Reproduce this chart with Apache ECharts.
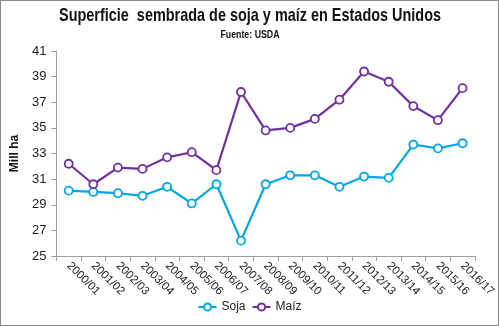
<!DOCTYPE html>
<html>
<head>
<meta charset="utf-8">
<script src="https://cdn.jsdelivr.net/npm/echarts@6/dist/echarts.min.js"></script>
<style>
  html, body { margin: 0; padding: 0; background: #fff; }
  #chart { width: 497px; height: 324px; border: 1px solid #8c8c8c; }
</style>
</head>
<body>
<div id="chart"></div>
<script>
// Campañas agrícolas
const campanas = ['2000/01','2001/02','2002/03','2003/04','2004/05','2005/06','2006/07','2007/08','2008/09','2009/10','2010/11','2011/12','2012/13','2013/14','2014/15','2015/16','2016/17'];
// Superficie sembrada, millones de hectáreas
const soja = [30.1, 30.0, 29.9, 29.7, 30.4, 29.1, 30.6, 26.2, 30.6, 31.3, 31.3, 30.4, 31.2, 31.1, 33.7, 33.4, 33.8];
const maiz = [32.2, 30.6, 31.9, 31.8, 32.7, 33.1, 31.7, 37.8, 34.8, 35.0, 35.7, 37.2, 39.4, 38.6, 36.7, 35.6, 38.1];

const tituloTexto = 'Superficie  sembrada de soja y maíz en Estados Unidos';
const fuenteTexto = 'Fuente: USDA';

const chart = echarts.init(document.getElementById('chart'), null, { renderer: 'canvas' });
const axisFont = 'Liberation Sans, Arial, sans-serif';

function serie(name, data, color) {
  return {
    name, type: 'line', data,
    symbol: 'circle', symbolSize: 8,
    itemStyle: { color: '#fff', borderColor: color, borderWidth: 1.8 },
    lineStyle: { color, width: 2.2 },
    emphasis: { disabled: true }
  };
}

// Condensed heading: bold sans text squeezed horizontally around its centre
function textoCondensado(text, y, size, escala) {
  return {
    type: 'text', x: 249, y, scaleX: escala, silent: true,
    style: {
      text, align: 'center', verticalAlign: 'top',
      font: 'bold ' + size + 'px Liberation Sans, Arial, sans-serif',
      fill: '#111'
    }
  };
}

chart.setOption({
  animation: false,
  graphic: [
    textoCondensado(tituloTexto, 5, 19, 0.76),
    textoCondensado(fuenteTexto, 28, 11, 0.8)
  ],
  legend: {
    bottom: 7, left: 'center',
    itemWidth: 18, itemHeight: 9, itemGap: 6,
    textStyle: { fontFamily: axisFont, fontSize: 12, color: '#222' },
    data: ['Soja', 'Maíz']
  },
  grid: { left: 49, right: 20, top: 50, bottom: 69 },
  xAxis: {
    type: 'category', data: campanas, boundaryGap: true,
    axisLine: { lineStyle: { color: '#a0a0a0' } },
    axisTick: { show: true, length: 5, lineStyle: { color: '#a0a0a0' } },
    axisLabel: { rotate: -45, interval: 0, margin: 8, fontFamily: axisFont, fontSize: 11.5, color: '#222' }
  },
  yAxis: {
    type: 'value', min: 25, max: 41, interval: 2,
    name: 'Mill ha', nameLocation: 'middle', nameGap: 25, nameRotate: 90,
    nameTextStyle: { fontFamily: axisFont, fontWeight: 'bold', fontSize: 12, color: '#111' },
    axisLine: { show: true, lineStyle: { color: '#a0a0a0' } },
    axisTick: { show: true, length: 5, lineStyle: { color: '#a0a0a0' } },
    splitLine: { show: false },
    axisLabel: { margin: 10, fontFamily: axisFont, fontSize: 13, color: '#222' }
  },
  series: [
    serie('Soja', soja, '#00a8e8'),
    serie('Maíz', maiz, '#7030a0')
  ]
});
</script>
</body>
</html>
